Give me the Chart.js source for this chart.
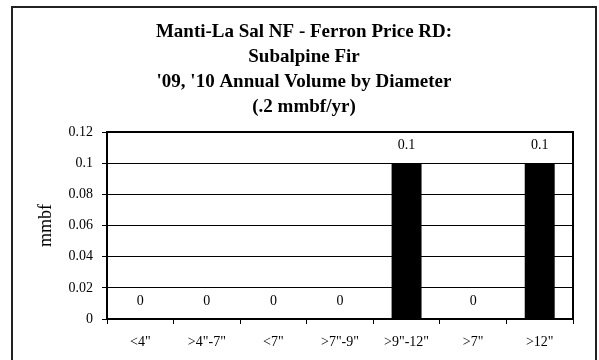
<!DOCTYPE html>
<html>
<head>
<meta charset="utf-8">
<script src="https://cdn.jsdelivr.net/npm/chart.js@4.4.1/dist/chart.umd.min.js"></script>
<style>
  html, body { margin: 0; padding: 0; background: #fff; }
  canvas { display: block; }
</style>
</head>
<body>
<canvas id="chart" width="599" height="360"></canvas>
<script>
// data
const categories = ['<4"', '>4"-7"', '<7"', '>7"-9"', '>9"-12"', '>7"', '>12"'];
const volumes = [0, 0, 0, 0, 0.1, 0, 0.1];
const yTicks = [0, 0.02, 0.04, 0.06, 0.08, 0.1, 0.12];
const yTickLabels = ['0', '0.02', '0.04', '0.06', '0.08', '0.1', '0.12'];
const titleLines = [
  'Manti-La Sal NF - Ferron Price RD:',
  'Subalpine Fir',
  "'09, '10 Annual Volume by Diameter",
  '(.2 mmbf/yr)'
];

const serif = '"Liberation Serif", "Times New Roman", serif';

// white background + outer frame
const frame = {
  id: 'frame',
  beforeDraw(chart) {
    const ctx = chart.ctx;
    ctx.save();
    ctx.fillStyle = '#fff';
    ctx.fillRect(0, 0, chart.width, chart.height);
    ctx.strokeStyle = '#222';
    ctx.lineWidth = 2;
    ctx.strokeRect(12, 7, 584, 365);
    ctx.restore();
  }
};

// title, a bit right of the plot centre like the excel original
const titleBlock = {
  id: 'titleBlock',
  afterDraw(chart) {
    const ctx = chart.ctx;
    ctx.save();
    ctx.fillStyle = '#000';
    ctx.font = 'bold 19px ' + serif;
    ctx.textAlign = 'center';
    ctx.textBaseline = 'middle';
    titleLines.forEach((line, i) => {
      ctx.fillText(line, 304, 32 + i * 25);
    });
    ctx.restore();
  }
};

// box round the plot + value labels above bars
const plotBox = {
  id: 'plotBox',
  afterDatasetsDraw(chart) {
    const ctx = chart.ctx;
    const a = chart.chartArea;
    ctx.save();
    ctx.strokeStyle = '#000';
    ctx.lineWidth = 2;
    ctx.strokeRect(a.left, a.top, a.right - a.left, a.bottom - a.top);

    ctx.fillStyle = '#000';
    ctx.font = '14px ' + serif;
    ctx.textAlign = 'center';
    ctx.textBaseline = 'middle';
    const meta = chart.getDatasetMeta(0);
    meta.data.forEach((bar, i) => {
      ctx.fillText(String(volumes[i]), bar.x, bar.y - 18);
    });
    ctx.restore();
  }
};

const ctx = document.getElementById('chart').getContext('2d');

new Chart(ctx, {
  type: 'bar',
  data: {
    labels: categories,
    datasets: [{
      data: volumes,
      backgroundColor: '#000',
      borderWidth: 0,
      categoryPercentage: 1,
      barPercentage: 0.45
    }]
  },
  options: {
    responsive: false,
    animation: false,
    devicePixelRatio: 1,
    layout: { padding: { left: 12, right: 26, top: 132, bottom: 0 } },
    plugins: {
      legend: { display: false },
      tooltip: { enabled: false },
      title: { display: false }
    },
    scales: {
      x: {
        grid: {
          display: true,
          drawOnChartArea: false,
          drawTicks: true,
          tickLength: 5,
          color: '#000',
          offset: true
        },
        border: { display: false },
        ticks: {
          color: '#000',
          font: { family: serif, size: 14 },
          padding: 10,
          maxRotation: 0,
          autoSkip: false
        },
        afterFit(scale) { scale.height = 41; }
      },
      y: {
        min: 0,
        max: 0.12,
        afterBuildTicks(scale) {
          scale.ticks = yTicks.map(v => ({ value: v }));
        },
        ticks: {
          color: '#000',
          font: { family: serif, size: 14 },
          padding: 9,
          callback: (v, i) => yTickLabels[i]
        },
        grid: {
          color: '#000',
          lineWidth: 1,
          drawTicks: true,
          tickLength: 5
        },
        border: { display: false },
        title: {
          display: true,
          text: 'mmbf',
          color: '#000',
          font: { family: serif, size: 18 },
          padding: { top: 23, bottom: 0 }
        },
        afterFit(scale) { scale.width = 95; }
      }
    }
  },
  plugins: [frame, titleBlock, plotBox]
});
</script>
</body>
</html>
